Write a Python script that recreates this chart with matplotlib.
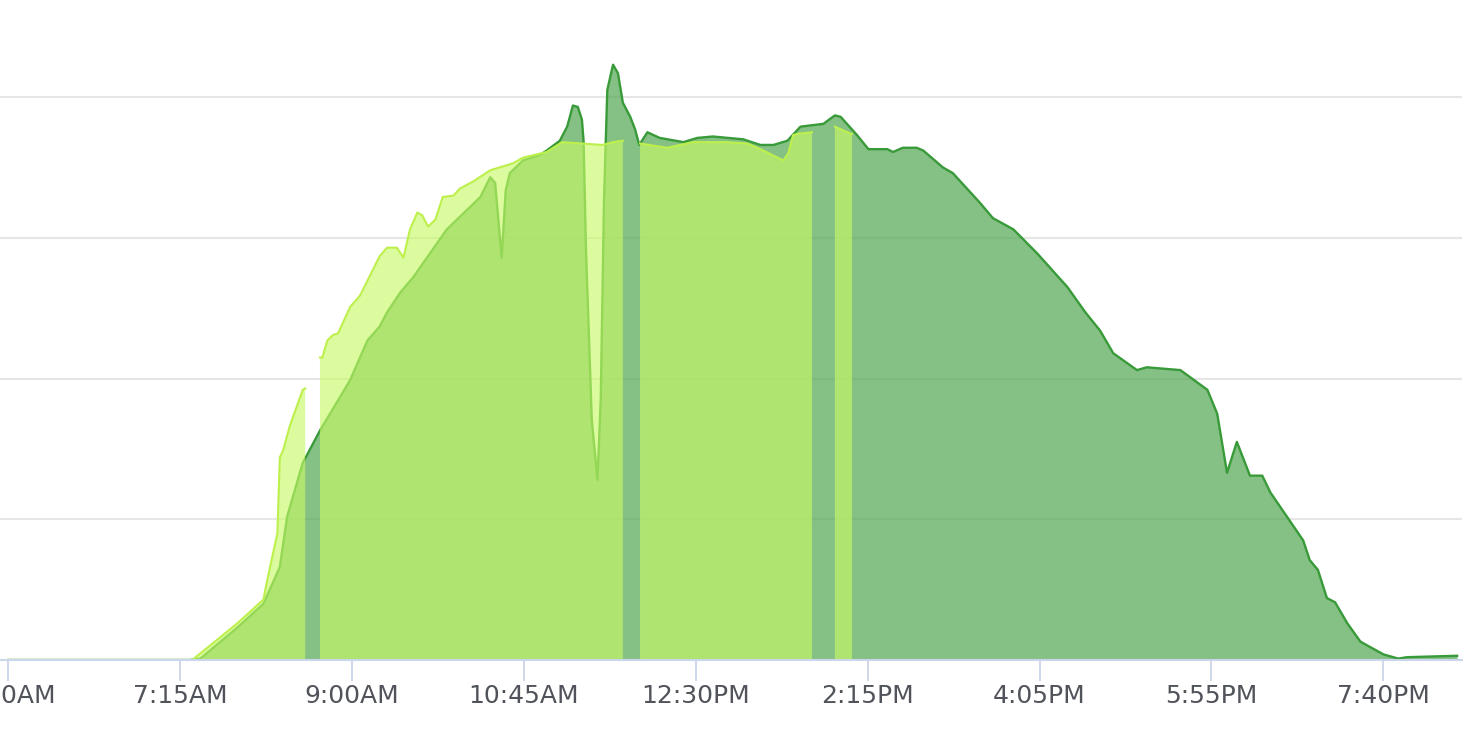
import numpy as np
import matplotlib.pyplot as plt

# readings are 5-minute samples starting at 5:30AM, power in kW
tick_pos = [0, 21, 42, 63, 84, 105, 126, 147, 168]
tick_labels = ['5:30AM', '7:15AM', '9:00AM', '10:45AM', '12:30PM',
               '2:15PM', '4:05PM', '5:55PM', '7:40PM']

# series 1 (dark green)
day1_x = [0, 22.2, 23.5, 28.0, 31.2, 33.2, 34.1, 36.0, 38.1, 41.8, 43.9, 45.4,
          46.3, 47.9, 49.5, 53.6, 57.7, 58.9, 59.5, 60.3, 60.8, 61.3, 62.9, 65.0,
          65.8, 67.4, 68.3, 69.0, 69.6, 70.1, 70.3, 70.6, 71.3, 72.0, 72.4, 72.8,
          73.2, 73.9, 74.5, 75.1, 76.0, 76.6, 77.1, 78.1, 79.6,
          82.5, 84.2, 86.1, 89.8, 91.9, 93.5, 95.2, 96.8, 99.6, 101.0, 101.7,
          103.7, 105.1, 107.4, 108.1, 109.3, 111.0, 111.8, 114.2, 115.4, 118.7,
          120.3, 122.8, 125.7, 129.4, 131.6, 133.4, 135.0, 137.9, 139.1, 143.2,
          146.5, 147.7, 148.9, 150.1, 151.7, 153.2, 154.2, 156.2, 158.2, 159.0,
          160.0, 161.1, 162.1, 163.6, 165.2, 168.0, 169.8, 170.9, 177.0]
day1_kw = [0, 0, 0.01, 0.23, 0.40, 0.66, 1.02, 1.40, 1.63, 1.99, 2.27, 2.37,
           2.47, 2.61, 2.72, 3.06, 3.29, 3.43, 3.39, 2.86, 3.34, 3.46, 3.55, 3.59,
           3.62, 3.69, 3.79, 3.94, 3.93, 3.84, 3.69, 2.91, 1.71, 1.28, 1.85, 3.27,
           4.05, 4.23, 4.17, 3.96, 3.86, 3.77, 3.66, 3.75, 3.71,
           3.68, 3.71, 3.72, 3.70, 3.66, 3.66, 3.69, 3.79, 3.81, 3.87, 3.86,
           3.73, 3.63, 3.63, 3.61, 3.64, 3.64, 3.62, 3.50, 3.46, 3.25,
           3.14, 3.06, 2.89, 2.65, 2.47, 2.34, 2.18, 2.06, 2.08, 2.06,
           1.92, 1.75, 1.33, 1.55, 1.31, 1.31, 1.19, 1.02, 0.85, 0.71,
           0.64, 0.44, 0.41, 0.26, 0.13, 0.04, 0.01, 0.02, 0.03]

# series 2 (light green), NaN where readings are missing
day2_x = [0, 22.5, 28.0, 31.2, 31.6, 32.9, 33.2, 33.6, 34.4, 36.0, 36.3, 37.2,
          38.1, 38.4, 39.0, 39.7, 40.3, 41.8, 43.0, 45.4, 46.3, 47.5, 48.3, 49.1,
          50.0, 50.6, 51.3, 52.2, 53.1, 54.4, 55.2, 56.8, 58.9, 61.7, 62.9, 65.8,
          67.7, 70.2, 72.6, 73.9, 75.1, 76.0,
          77.2, 80.5, 83.7, 87.8, 90.3, 91.9, 94.7, 95.3, 95.9, 96.5, 98.2, 99.5,
          101.0, 102.9, 103.1]
day2_kw = [0, 0, 0.26, 0.43, 0.55, 0.90, 1.44, 1.49, 1.66, 1.92, 1.93, np.nan,
           2.15, 2.15, 2.27, 2.31, 2.32, 2.51, 2.59, 2.87, 2.93, 2.93, 2.86, 3.06,
           3.18, 3.16, 3.08, 3.13, 3.29, 3.30, 3.35, 3.40, 3.48, 3.53, 3.57, 3.61,
           3.68, 3.67, 3.66, 3.68, 3.69, np.nan,
           3.67, 3.64, 3.68, 3.68, 3.67, 3.63, 3.55, 3.60, 3.73, 3.74, 3.75, np.nan,
           3.79, 3.74, 3.74]

fig = plt.figure(figsize=(14.84, 7.44), dpi=100)
ax = fig.add_axes([0, 84 / 744, 1462 / 1484, 660 / 744])

x1 = np.array(day1_x)
y1 = np.array(day1_kw)
x2 = np.array(day2_x)
y2 = np.array(day2_kw)

ax.fill_between(x1, 0, y1, color=(92/255, 171/255, 92/255), alpha=0.75, lw=0, zorder=2)
ax.plot(x1, y1, color='#389a38', lw=1.7, zorder=3, solid_joinstyle='round')
ax.fill_between(x2, 0, y2, color=(200/255, 250/255, 103/255), alpha=0.64, lw=0, zorder=4)
ax.plot(x2, y2, color='#bdf04c', lw=1.5, zorder=5, solid_joinstyle='round')

ax.set_xlim(-0.98, 177.6)
ax.set_ylim(0, 4.69)
ax.set_yticks([1, 2, 3, 4])
ax.yaxis.grid(True, color='#e6e6e6', lw=1.5, zorder=0)
ax.set_axisbelow(True)
ax.tick_params(axis='y', left=False, labelleft=False)

ax.set_xticks(tick_pos)
ax.set_xticklabels(tick_labels, fontsize=18, color='#50535a')
ax.tick_params(axis='x', length=15, width=1.3, color='#ccd6eb', pad=2)

for side in ['top', 'right', 'left']:
    ax.spines[side].set_visible(False)
ax.spines['bottom'].set_color('#ccd6eb')
ax.spines['bottom'].set_linewidth(1.5)
ax.spines['bottom'].set_zorder(6)

fig.savefig('out.png', dpi=100)
